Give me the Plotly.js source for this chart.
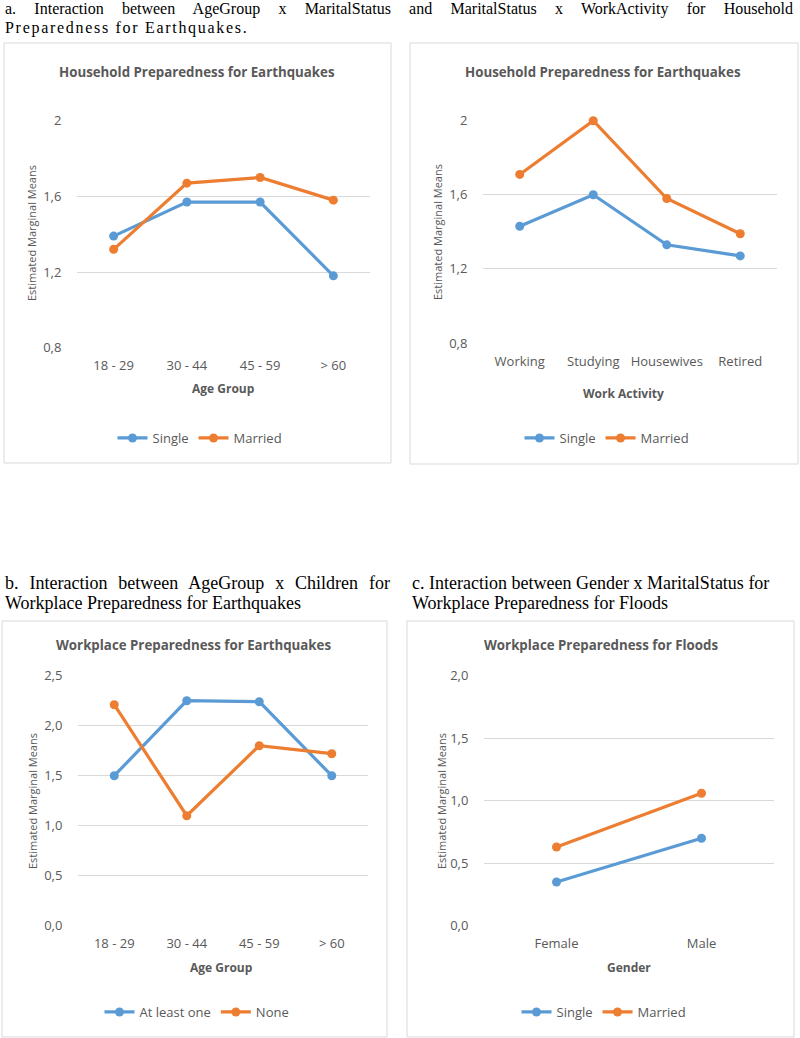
<!DOCTYPE html>
<html>
<head>
<meta charset="utf-8">
<script src="https://cdn.plot.ly/plotly-3.0.1.min.js"></script>
<style>
  html, body { margin: 0; padding: 0; background: #fff; }
  #wrap { position: relative; width: 800px; height: 1038px; overflow: hidden; }
  #chart { position: absolute; left: 0; top: 0; width: 800px; height: 1038px; }
  .cap { position: absolute; font-family: "Liberation Serif", "DejaVu Serif", serif; color: #000; white-space: nowrap; }
  .just { text-align: justify; text-align-last: justify; white-space: normal; }
</style>
</head>
<body>
<div id="wrap">
  <div id="chart"></div>
  <div class="cap just" style="left:5px; top:0px; width:788px; font-size:16px; line-height:18px;">a. Interaction between AgeGroup x MaritalStatus and MaritalStatus x WorkActivity for Household</div>
  <div class="cap" style="left:5px; top:18px; font-size:16px; line-height:20px; letter-spacing:1.7px;">Preparedness for Earthquakes.</div>
  <div class="cap just" style="left:5px; top:573px; width:385px; font-size:18px; line-height:20px;">b. Interaction between AgeGroup x Children for</div>
  <div class="cap" style="left:5px; top:593px; font-size:18px; line-height:20px;">Workplace Preparedness for Earthquakes</div>
  <div class="cap" style="left:412px; top:573px; font-size:18px; line-height:20px;">c. Interaction between Gender x MaritalStatus for</div>
  <div class="cap" style="left:412px; top:593px; font-size:18px; line-height:20px;">Workplace Preparedness for Floods</div>
</div>
<script>
// ---------- Data ----------
const ageGroups = ['18 - 29', '30 - 44', '45 - 59', '> 60'];
const workActivities = ['Working', 'Studying', 'Housewives', 'Retired'];
const genders = ['Female', 'Male'];

const ageSingle = [1.39, 1.57, 1.57, 1.18];
const ageMarried = [1.32, 1.67, 1.70, 1.58];

const workSingle = [1.43, 1.60, 1.33, 1.27];
const workMarried = [1.71, 2.00, 1.58, 1.39];

const childAtLeastOne = [1.50, 2.25, 2.24, 1.50];
const childNone = [2.21, 1.10, 1.80, 1.72];

const genderSingle = [0.35, 0.70];
const genderMarried = [0.63, 1.06];

const tickValsHouse = [0.8, 1.2, 1.6, 2.0];
const tickTextHouse = ['0,8', '1,2', '1,6', '2'];
const tickValsWorkEq = [0, 0.5, 1.0, 1.5, 2.0, 2.5];
const tickTextWorkEq = ['0,0', '0,5', '1,0', '1,5', '2,0', '2,5'];
const tickValsFlood = [0, 0.5, 1.0, 1.5, 2.0];
const tickTextFlood = ['0,0', '0,5', '1,0', '1,5', '2,0'];

// ---------- Styling ----------
const BLUE = '#5B9BD5';
const ORANGE = '#ED7D31';
const GRID = '#D9D9D9';
const TXT = '#595959';
const FONT = 'Open Sans, Noto Sans, sans-serif';
const W = 800, H = 1038;
const fx = px => px / W;
const fy = py => 1 - py / H;

function trace(x, y, name, color, xa, ya, leg) {
  return {
    type: 'scatter', mode: 'lines+markers', x: x, y: y, name: name,
    xaxis: xa, yaxis: ya, legend: leg, cliponaxis: false,
    line: {color: color, width: 3.2},
    marker: {color: color, size: 9},
    hoverinfo: 'x+y+name'
  };
}

const data = [
  trace(ageGroups, ageSingle, 'Single', BLUE, 'x', 'y', 'legend'),
  trace(ageGroups, ageMarried, 'Married', ORANGE, 'x', 'y', 'legend'),
  trace(workActivities, workSingle, 'Single', BLUE, 'x2', 'y2', 'legend2'),
  trace(workActivities, workMarried, 'Married', ORANGE, 'x2', 'y2', 'legend2'),
  trace(ageGroups, childAtLeastOne, 'At least one', BLUE, 'x3', 'y3', 'legend3'),
  trace(ageGroups, childNone, 'None', ORANGE, 'x3', 'y3', 'legend3'),
  trace(genders, genderSingle, 'Single', BLUE, 'x4', 'y4', 'legend4'),
  trace(genders, genderMarried, 'Married', ORANGE, 'x4', 'y4', 'legend4')
];

function xAxis(x0, x1, n, anchor) {
  return {
    type: 'category', domain: [fx(x0), fx(x1)], anchor: anchor,
    range: [-0.5, n - 0.5], showgrid: false, zeroline: false, showline: false,
    ticks: 'outside', ticklen: 6, tickcolor: 'rgba(0,0,0,0)',
    tickfont: {family: FONT, size: 13, color: TXT}, fixedrange: true
  };
}
function yAxis(top, bottom, range, tv, tt, anchor) {
  return {
    domain: [fy(bottom), fy(top)], anchor: anchor, range: range,
    tickmode: 'array', tickvals: tv, ticktext: tt,
    showgrid: true, gridcolor: GRID, gridwidth: 1, zeroline: false, showline: false,
    ticks: 'outside', ticklen: 12, tickcolor: 'rgba(0,0,0,0)',
    tickfont: {family: FONT, size: 13, color: TXT}, fixedrange: true
  };
}

function legend(cx, cy) {
  return {
    orientation: 'h', x: fx(cx), y: fy(cy), xanchor: 'center', yanchor: 'middle',
    xref: 'paper', yref: 'paper', bgcolor: 'rgba(0,0,0,0)',
    font: {family: FONT, size: 13, color: TXT}, itemwidth: 30, tracegroupgap: 0
  };
}

function box(x0, y0, x1, y1) {
  return {type: 'rect', xref: 'paper', yref: 'paper',
    x0: fx(x0), x1: fx(x1), y0: fy(y1), y1: fy(y0),
    line: {color: GRID, width: 1}, fillcolor: 'rgba(0,0,0,0)', layer: 'below'};
}

function ann(text, x, y, size, bold, angle) {
  return {text: bold ? '<b>' + text + '</b>' : text, xref: 'paper', yref: 'paper',
    x: fx(x), y: fy(y), xanchor: 'center', yanchor: 'middle', showarrow: false,
    textangle: angle || 0, font: {family: FONT, size: size, color: TXT}};
}

const layout = {
  width: W, height: H, margin: {l: 0, r: 0, t: 0, b: 0},
  paper_bgcolor: '#ffffff', plot_bgcolor: 'rgba(0,0,0,0)',
  showlegend: true, hovermode: 'closest',
  xaxis: xAxis(77, 370, 4, 'y'),
  yaxis: yAxis(120.7, 347.7, [0.8, 2.0], tickValsHouse, tickTextHouse, 'x'),
  xaxis2: xAxis(483, 777, 4, 'y2'),
  yaxis2: yAxis(120.7, 343, [0.8, 2.0], tickValsHouse, tickTextHouse, 'x2'),
  xaxis3: xAxis(78, 368, 4, 'y3'),
  yaxis3: yAxis(675.7, 925.7, [0, 2.5], tickValsWorkEq, tickTextWorkEq, 'x3'),
  xaxis4: xAxis(484, 774, 2, 'y4'),
  yaxis4: yAxis(675.7, 925.7, [0, 2.0], tickValsFlood, tickTextFlood, 'x4'),
  legend: legend(200, 438),
  legend2: legend(607, 438),
  legend3: legend(197, 1012),
  legend4: legend(604, 1012),
  shapes: [
    box(4, 43, 391, 463),
    box(410, 43, 798, 464),
    box(2, 621, 387, 1037),
    box(407, 621, 794, 1037)
  ],
  annotations: [
    ann('Household Preparedness for Earthquakes', 197, 72, 13.3, true),
    ann('Household Preparedness for Earthquakes', 603, 72, 13.3, true),
    ann('Workplace Preparedness for Earthquakes', 193, 645, 13.3, true),
    ann('Workplace Preparedness for Floods', 601, 645, 13.3, true),
    ann('Age Group', 223, 389, 12, true),
    ann('Work Activity', 623, 393, 12, true),
    ann('Age Group', 221, 967, 12, true),
    ann('Gender', 629, 967, 12, true),
    ann('Estimated Marginal Means', 32, 233, 11, false, -90),
    ann('Estimated Marginal Means', 437, 232, 11, false, -90),
    ann('Estimated Marginal Means', 32, 801, 11, false, -90),
    ann('Estimated Marginal Means', 441, 801, 11, false, -90)
  ]
};

Plotly.newPlot('chart', data, layout, {displayModeBar: false});
</script>
</body>
</html>
